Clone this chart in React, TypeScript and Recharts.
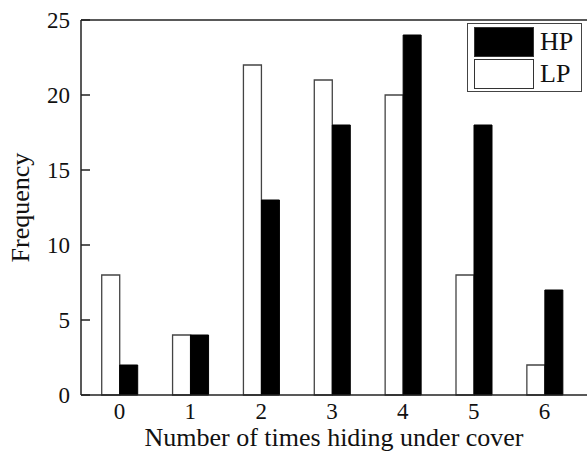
import React from 'react';
import { BarChart, Bar, XAxis, YAxis, CartesianGrid, Label } from 'recharts';

const categories = ['0', '1', '2', '3', '4', '5', '6'];
const lpValues = [8, 4, 22, 21, 20, 8, 2];
const hpValues = [2, 4, 13, 18, 24, 18, 7];
const yTicks = [0, 5, 10, 15, 20, 25];
const legendItems = [
  { name: 'HP', fill: '#000' },
  { name: 'LP', fill: '#fff' },
];

const data = categories.map((c, i) => ({ cat: c, LP: lpValues[i], HP: hpValues[i] }));

const FONT = "'Liberation Serif', 'Times New Roman', serif";
const AX = '#222';

const YTick = (props: any) => {
  const { x, y, payload } = props;
  return (
    <g>
      <line x1={x} x2={x + 9} y1={y} y2={y} stroke={AX} strokeWidth={1.5} />
      <text x={x - 11} y={y + 8} textAnchor="end" style={{ fontSize: 23, fontFamily: FONT, fill: '#111' }}>
        {payload.value}
      </text>
    </g>
  );
};

const XTick = (props: any) => {
  const { x, y, payload } = props;
  return (
    <text x={x} y={y + 24} textAnchor="middle" style={{ fontSize: 23, fontFamily: FONT, fill: '#111' }}>
      {payload.value}
    </text>
  );
};

const LegendBox = () => (
  <div
    style={{
      position: 'absolute',
      left: 467,
      top: 23,
      border: '1px solid #444',
      width: 115,
      height: 69,
      boxSizing: 'border-box',
      background: '#fff',
      fontFamily: FONT,
      fontSize: 26,
      color: '#111',
    }}
  >
    {legendItems.map((it, i) => (
      <div key={it.name} style={{ position: 'absolute', left: 6, top: 3 + i * 32, display: 'flex', alignItems: 'center' }}>
        <div style={{ width: 60, height: 30, background: it.fill, border: '1.5px solid #333', boxSizing: 'border-box' }} />
        <span style={{ marginLeft: 6, lineHeight: '30px' }}>{it.name}</span>
      </div>
    ))}
  </div>
);

export default function App() {
  return (
    <div style={{ position: 'fixed', left: 0, top: 0, width: 587, height: 454, overflow: 'hidden', background: '#fff' }}>
      <BarChart
        width={587}
        height={454}
        data={data}
        margin={{ top: 20, right: 0, left: 0, bottom: 0 }}
        barCategoryGap="25%"
        barGap={0}
      >
        <CartesianGrid vertical={false} horizontalValues={[25]} stroke={AX} strokeWidth={1.5} strokeDasharray="" />
        <XAxis
          dataKey="cat"
          type="category"
          height={59}
          padding={{ left: 3, right: 7 }}
          axisLine={{ stroke: AX, strokeWidth: 1.5 }}
          tickLine={false}
          tickSize={0}
          tickMargin={0}
          tick={<XTick />}
          interval={0}
        >
          <Label
            value="Number of times hiding under cover"
            position="insideBottom"
            offset={8}
            style={{ fontSize: 26, fontFamily: FONT, fill: '#111' }}
          />
        </XAxis>
        <YAxis
          width={81}
          domain={[0, 25]}
          ticks={yTicks}
          axisLine={{ stroke: AX, strokeWidth: 1.5 }}
          tickLine={false}
          tickSize={0}
          tickMargin={0}
          tick={<YTick />}
          interval={0}
        >
          <Label
            value="Frequency"
            angle={-90}
            position="insideLeft"
            offset={0}
            dx={20}
            style={{ fontSize: 26, fontFamily: FONT, fill: '#111', textAnchor: 'middle' }}
          />
        </YAxis>
        <Bar dataKey="LP" fill="#fff" stroke="#444" strokeWidth={1.3} isAnimationActive={false} />
        <Bar dataKey="HP" fill="#000" stroke="#000" strokeWidth={1} isAnimationActive={false} />
      </BarChart>
      <LegendBox />
    </div>
  );
}
